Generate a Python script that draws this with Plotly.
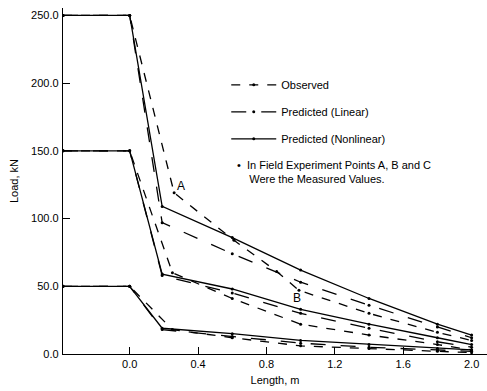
import plotly.graph_objects as go

# ---- data ----
x_obs = [-0.39, 0.0, 0.26, 0.61, 0.86, 0.99, 1.4, 1.8, 2.0]
obs_250 = [250, 250, 119, 84, 61, 47, 30, 16, 10]
x_pred = [-0.39, 0.0, 0.19, 0.6, 1.0, 1.4, 1.8, 2.0]
lin_250 = [250, 250, 97, 74, 53, 36, 20, 12]
non_250 = [250, 250, 109, 86, 62, 41, 22, 14]

x_obs2 = [-0.39, 0.0, 0.25, 0.6, 1.0, 1.4, 1.8, 2.0]
obs_150 = [150, 150, 60, 41, 22, 14, 7, 3]
lin_150 = [150, 150, 58, 45, 30, 19, 9, 5]
non_150 = [150, 150, 59, 48, 33, 22, 12, 7]

obs_50 = [50, 50, 18, 12, 6, 4, 2, 1]
lin_50 = [50, 50, 18, 13, 8, 5, 3, 2]
non_50 = [50, 50, 19, 15, 10, 7, 4, 3]

x_ticks = [0.0, 0.4, 0.8, 1.2, 1.6, 2.0]
y_ticks = [0, 50, 100, 150, 200, 250]

point_labels = ["A", "B"]
point_x = [0.30, 0.98]
point_y = [124, 41]

FONT = "Liberation Sans"

fig = go.Figure()

styles = {
    "obs": dict(name="Observed", dash="dash"),
    "lin": dict(name="Predicted (Linear)", dash="longdash"),
    "non": dict(name="Predicted (Nonlinear)", dash="solid"),
}

series = [
    ("obs", x_obs, obs_250), ("lin", x_pred, lin_250), ("non", x_pred, non_250),
    ("obs", x_obs2, obs_150), ("lin", x_pred, lin_150), ("non", x_pred, non_150),
    ("obs", x_obs2, obs_50), ("lin", x_pred, lin_50), ("non", x_pred, non_50),
]
shown = set()
for key, xs, ys in series:
    st = styles[key]
    fig.add_trace(go.Scatter(
        x=xs, y=ys, mode="lines+markers",
        line=dict(color="black", width=1.3, dash=st["dash"]),
        marker=dict(color="black", size=3),
        name=st["name"], legendgroup=key,
        showlegend=key not in shown,
    ))
    shown.add(key)

for lab, px, py in zip(point_labels, point_x, point_y):
    fig.add_annotation(x=px, y=py, text=lab, showarrow=False,
                       font=dict(family=FONT, size=12, color="black"))

fig.add_annotation(xref="paper", yref="paper", x=0.405, y=0.568,
                   xanchor="left", yanchor="top", align="left", showarrow=False,
                   text="•  In Field Experiment Points A, B and C<br>    Were the Measured Values.",
                   font=dict(family=FONT, size=11, color="black"))

fig.update_layout(
    width=487, height=391,
    margin=dict(l=63, r=0, t=8, b=37),
    paper_bgcolor="white", plot_bgcolor="white",
    font=dict(family=FONT, size=11, color="black"),
    legend=dict(x=0.385, y=0.82, xanchor="left", yanchor="top",
                bgcolor="rgba(0,0,0,0)", tracegroupgap=8, itemwidth=45,
                font=dict(family=FONT, size=11)),
)
fig.update_xaxes(range=[-0.39, 2.09], tickvals=x_ticks, tickformat=".1f",
                 ticks="inside", ticklen=7, tickcolor="black",
                 showline=True, linecolor="black", linewidth=1.3,
                 showgrid=False, zeroline=False,
                 title=dict(text="Length, m", standoff=6, font=dict(size=11)))
fig.update_yaxes(range=[0, 255.5], tickvals=y_ticks, tickformat=".1f",
                 ticks="inside", ticklen=7, tickcolor="black",
                 showline=True, linecolor="black", linewidth=1.3,
                 showgrid=False, zeroline=False, ticklabelstandoff=1,
                 title=dict(text="Load, kN", standoff=10, font=dict(size=11)))

fig.write_html("out.html")
